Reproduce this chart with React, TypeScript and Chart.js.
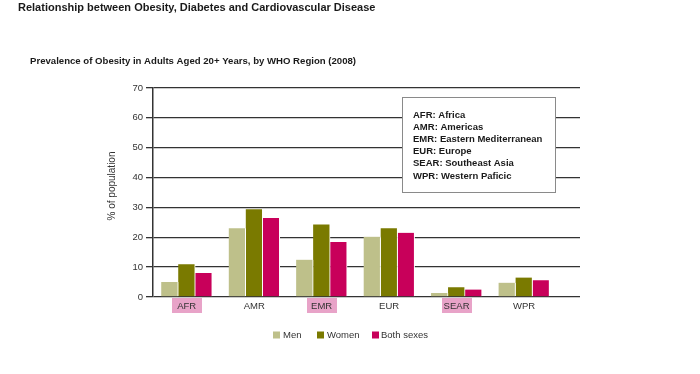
import React, { useEffect, useRef } from 'react';
import { Chart, registerables } from 'chart.js';

Chart.register(...registerables);

const mainTitle = 'Relationship between Obesity, Diabetes and Cardiovascular Disease';
const subTitle = 'Prevalence of Obesity in Adults Aged 20+ Years, by WHO Region (2008)';
const yAxisTitle = '% of population';

const categories = ['AFR', 'AMR', 'EMR', 'EUR', 'SEAR', 'WPR'];
const highlightedCategories = ['AFR', 'EMR', 'SEAR'];

const menValues = [5.0, 23.0, 12.5, 20.2, 1.3, 4.8];
const womenValues = [11.0, 29.4, 24.3, 23.0, 3.3, 6.5];
const bothValues = [8.0, 26.5, 18.4, 21.5, 2.5, 5.6];

const seriesNames = ['Men', 'Women', 'Both sexes'];
const seriesColors = ['#bec08a', '#7a7a00', '#c8005a'];

const yMin = 0;
const yMax = 70;
const yStep = 10;

const regionNotes = [
  'AFR: Africa',
  'AMR: Americas',
  'EMR: Eastern Mediterranean',
  'EUR: Europe',
  'SEAR: Southeast Asia',
  'WPR: Western Paficic',
];

const FONT = '"Liberation Sans", Arial, Helvetica, sans-serif';

const decorPlugin = {
  id: 'decor',
  afterDraw(chart: any) {
    const ctx = chart.ctx as CanvasRenderingContext2D;
    const xScale = chart.scales.x;
    const area = chart.chartArea;
    ctx.save();

    // Titles
    ctx.fillStyle = '#1a1a1a';
    ctx.textAlign = 'left';
    ctx.textBaseline = 'middle';
    ctx.font = `bold 11px ${FONT}`;
    ctx.fillText(mainTitle, 18, 8);
    ctx.font = `bold 9.6px ${FONT}`;
    ctx.fillText(subTitle, 30, 61);

    // Y axis title
    ctx.save();
    ctx.translate(112, 186);
    ctx.rotate(-Math.PI / 2);
    ctx.textAlign = 'center';
    ctx.textBaseline = 'middle';
    ctx.font = `10px ${FONT}`;
    ctx.fillStyle = '#333';
    ctx.fillText(yAxisTitle, 0, 0);
    ctx.restore();

    // Category labels
    ctx.font = `9.5px ${FONT}`;
    ctx.textAlign = 'center';
    ctx.textBaseline = 'middle';
    categories.forEach((c, i) => {
      const px = xScale.getPixelForValue(i);
      if (highlightedCategories.includes(c)) {
        ctx.fillStyle = '#e8a3c8';
        ctx.fillRect(Math.round(px - 15), area.bottom + 1, 30, 15);
      }
      ctx.fillStyle = '#333';
      ctx.fillText(c, px, area.bottom + 9);
    });

    // Info box
    const bx = 402.5, by = 97.5, bw = 153, bh = 95;
    ctx.fillStyle = '#ffffff';
    ctx.fillRect(bx, by, bw, bh);
    ctx.strokeStyle = '#8a8a8a';
    ctx.lineWidth = 1;
    ctx.strokeRect(bx, by, bw, bh);
    ctx.fillStyle = '#1a1a1a';
    ctx.font = `bold 9.5px ${FONT}`;
    ctx.textAlign = 'left';
    regionNotes.forEach((t, i) => {
      ctx.fillText(t, 413, 115 + i * 12.2);
    });

    // Legend
    const legendY = 335;
    const legendX = [273, 317, 372];
    ctx.font = `9.5px ${FONT}`;
    seriesNames.forEach((n, i) => {
      ctx.fillStyle = seriesColors[i];
      ctx.fillRect(legendX[i], legendY - 3.5, 7, 7);
      ctx.fillStyle = '#333';
      ctx.fillText(n, legendX[i] + (i === 2 ? 9 : 10), legendY);
    });

    ctx.restore();
  },
};

export default function App() {
  const canvasRef = useRef<HTMLCanvasElement | null>(null);

  useEffect(() => {
    if (!canvasRef.current) return;
    const mk = (vals: number[]) => vals.map((v, i) => ({ x: i, y: v }));
    const chart = new Chart(canvasRef.current, {
      type: 'bar',
      data: {
        datasets: [menValues, womenValues, bothValues].map((vals, i) => ({
          label: seriesNames[i],
          data: mk(vals),
          backgroundColor: seriesColors[i],
          borderColor: '#ffffff',
          borderWidth: { top: 0, bottom: 0, left: 0, right: 1 },
          barThickness: 17,
        })),
      },
      options: {
        responsive: false,
        animation: false,
        devicePixelRatio: 1,
        layout: { padding: { left: 0, top: 88, right: 120, bottom: 0 } },
        plugins: {
          legend: { display: false },
          tooltip: { enabled: false },
          title: { display: false },
        },
        scales: {
          x: {
            type: 'linear',
            offset: false,
            min: -0.5,
            max: 5.83,
            grid: { display: false, offset: false },
            border: { display: false },
            ticks: { display: false },
            afterFit: (scale: any) => {
              scale.height = 77;
            },
          },
          y: {
            min: yMin,
            max: yMax,
            ticks: {
              stepSize: yStep,
              color: '#333',
              font: { family: FONT, size: 9.5 },
              padding: 3,
            },
            grid: {
              color: '#333',
              lineWidth: 1.3,
              tickLength: 7,
              drawTicks: true,
            },
            border: { display: true, color: '#333', width: 1.5 },
            afterFit: (scale: any) => {
              scale.width = 153;
            },
          },
        },
      } as any,
      plugins: [decorPlugin],
    });
    return () => chart.destroy();
  }, []);

  return (
    <div style={{ position: 'absolute', left: 0, top: 0, width: 700, height: 374, background: '#fff' }}>
      <canvas ref={canvasRef} width={700} height={374} style={{ display: 'block', width: 700, height: 374 }} />
    </div>
  );
}
